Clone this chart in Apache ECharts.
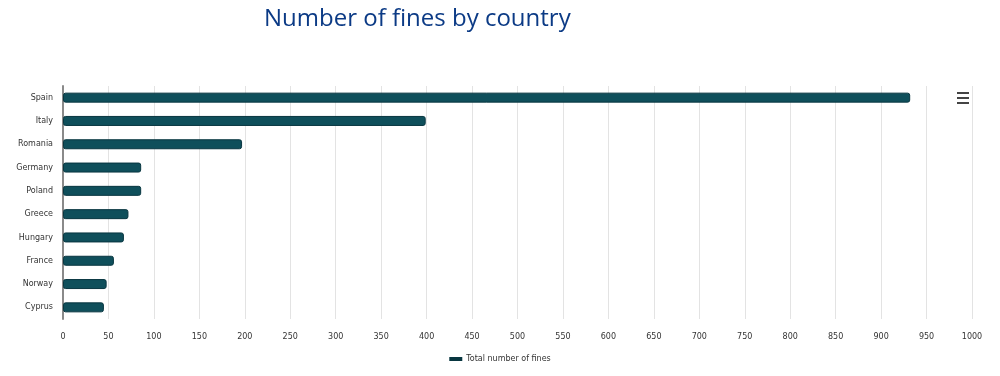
<!DOCTYPE html>
<html>
<head>
<meta charset="utf-8">
<script src="https://cdn.jsdelivr.net/npm/echarts@6/dist/echarts.min.js"></script>
<style>
  html, body { margin: 0; padding: 0; background: #fff; }
  #chart { width: 1000px; height: 376px; }
</style>
</head>
<body>
<div id="chart"></div>
<script>
// data
const countries = ['Spain', 'Italy', 'Romania', 'Germany', 'Poland', 'Greece', 'Hungary', 'France', 'Norway', 'Cyprus']
const fines = [932, 399, 197, 86, 86, 72, 67, 56, 48, 45]
const seriesName = 'Total number of fines'

const chart = echarts.init(document.getElementById('chart'))

chart.setOption({
  animation: false,
  title: {
    text: 'Number of fines by country',
    left: 259,
    top: 2,
    textStyle: {
      fontFamily: 'Open Sans',
      fontWeight: 'normal',
      fontSize: 24,
      color: '#0b3a85'
    }
  },
  toolbox: {
    right: 16,
    top: 77,
    itemSize: 12,
    feature: {
      myMenu: {
        show: true,
        title: '',
        icon: 'path://M0,0H12V2H0Z M0,5H12V7H0Z M0,10H12V12H0Z',
        onclick: function () {}
      }
    },
    iconStyle: { color: '#444', borderWidth: 0 }
  },
  legend: {
    bottom: 8,
    left: 'center',
    icon: 'rect',
    itemWidth: 11,
    itemHeight: 2,
    itemGap: 10,
    textStyle: { fontSize: 8, color: '#333', fontFamily: 'DejaVu Sans' },
    data: [seriesName]
  },
  grid: {
    left: 63,
    right: 28,
    top: 86,
    bottom: 57,
    containLabel: false
  },
  xAxis: {
    type: 'value',
    min: 0,
    max: 1000,
    interval: 50,
    axisLine: { show: false },
    axisTick: { show: false },
    splitLine: { lineStyle: { color: '#e3e3e3', width: 1 } },
    axisLabel: {
      fontSize: 8,
      color: '#333',
      margin: 14,
      fontFamily: 'DejaVu Sans',
      formatter: function (v) { return String(v) }
    }
  },
  yAxis: {
    type: 'category',
    inverse: true,
    data: countries,
    axisLine: { lineStyle: { color: '#8a8a8a', width: 2 } },
    axisTick: { show: false },
    axisLabel: {
      fontSize: 8,
      color: '#333',
      margin: 10,
      fontFamily: 'DejaVu Sans'
    }
  },
  series: [{
    name: seriesName,
    type: 'bar',
    data: fines,
    barWidth: 10,
    itemStyle: {
      color: '#0f4f5b',
      borderColor: '#083640',
      borderWidth: 1,
      borderRadius: 2
    }
  }]
})
</script>
</body>
</html>
